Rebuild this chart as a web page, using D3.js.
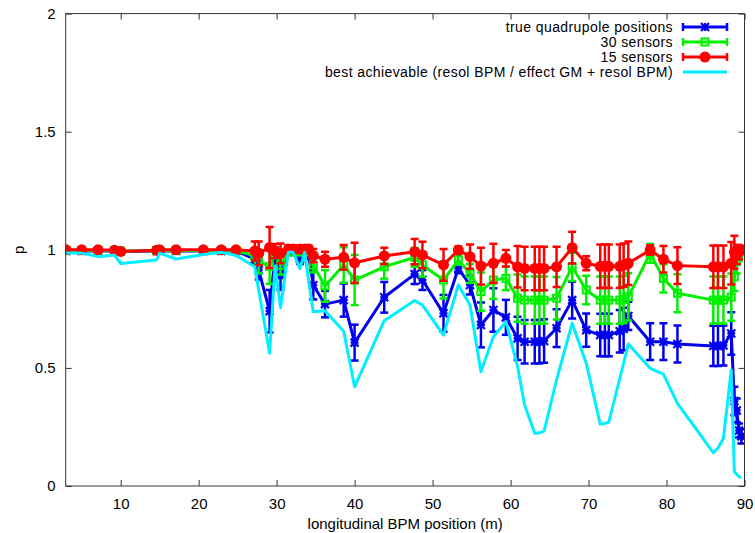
<!DOCTYPE html>
<html><head><meta charset="utf-8">
<script src="https://cdn.jsdelivr.net/npm/d3@7"></script>
<style>body{margin:0;background:#fff} text{font-family:"Liberation Sans",Arial,sans-serif}</style>
</head><body><svg id="c" width="755" height="533"></svg>
<script>
const positions = [3.0,5.0,7.1,9.2,10.0,14.6,15.0,17.1,20.6,22.9,24.8,27.2,27.7,29.1,29.8,30.5,31.5,32.1,33.0,33.6,34.1,34.7,36.2,38.6,40.0,43.8,47.7,48.7,51.4,53.3,54.8,56.2,57.8,59.4,60.9,61.8,63.1,63.7,64.3,65.9,67.9,69.7,71.5,72.1,72.6,74.0,74.5,75.1,77.9,79.6,81.4,86.0,86.6,87.3,88.3,88.7,89.0,89.3,89.6];

const trueQuad = [0.995,0.995,0.995,0.995,0.993,0.995,0.995,0.995,0.995,0.995,0.995,0.96,0.914,0.74,0.98,0.89,0.99,0.995,0.96,0.995,0.98,0.85,0.77,0.787,0.607,0.799,0.897,0.872,0.731,0.921,0.851,0.682,0.745,0.714,0.625,0.611,0.611,0.611,0.614,0.668,0.787,0.66,0.639,0.639,0.639,0.655,0.665,0.72,0.611,0.611,0.601,0.593,0.593,0.595,0.646,0.36,0.32,0.235,0.21];
const trueQuadErr = [0.005,0.005,0.005,0.005,0.005,0.005,0.005,0.005,0.005,0.005,0.005,0.02,0.04,0.09,0.03,0.06,0.01,0.01,0.02,0.01,0.02,0.06,0.056,0.07,0.076,0.065,0.042,0.042,0.078,0.02,0.04,0.095,0.092,0.074,0.092,0.092,0.092,0.092,0.092,0.08,0.078,0.07,0.09,0.09,0.09,0.09,0.09,0.06,0.078,0.078,0.078,0.085,0.085,0.085,0.09,0.06,0.05,0.03,0.03];

const sensors30 = [0.997,0.997,0.997,0.997,0.995,0.997,0.997,0.997,0.997,0.997,0.997,0.975,0.95,0.93,0.985,0.935,0.99,0.995,0.99,0.995,0.99,0.935,0.847,0.936,0.872,0.928,0.968,0.936,0.872,0.957,0.90,0.823,0.872,0.879,0.795,0.787,0.787,0.787,0.787,0.795,0.928,0.83,0.787,0.787,0.787,0.787,0.79,0.801,0.985,0.879,0.816,0.787,0.787,0.787,0.80,0.886,0.95,0.985,1.0];
const sensors30Err = [0.005,0.005,0.005,0.005,0.005,0.005,0.005,0.005,0.005,0.005,0.005,0.02,0.05,0.074,0.02,0.04,0.01,0.01,0.01,0.01,0.01,0.03,0.067,0.075,0.106,0.05,0.04,0.05,0.078,0.02,0.04,0.081,0.08,0.05,0.1,0.1,0.1,0.1,0.1,0.09,0.06,0.06,0.1,0.1,0.1,0.1,0.1,0.1,0.04,0.06,0.08,0.1,0.1,0.1,0.1,0.06,0.05,0.03,0.01];

const sensors15 = [1.0,1.0,1.0,0.998,0.993,0.998,1.0,1.0,1.0,1.0,1.0,0.995,0.985,1.01,0.995,0.985,1.003,1.003,1.003,1.003,1.003,0.975,0.96,0.968,0.945,0.974,0.992,0.978,0.936,0.999,0.971,0.931,0.943,0.964,0.928,0.921,0.921,0.921,0.921,0.928,1.009,0.943,0.93,0.93,0.93,0.93,0.935,0.943,0.999,0.96,0.933,0.928,0.928,0.928,0.943,0.99,0.98,0.99,1.0];
const sensors15Err = [0.005,0.005,0.005,0.005,0.005,0.005,0.005,0.005,0.005,0.005,0.005,0.04,0.05,0.087,0.03,0.042,0.015,0.015,0.015,0.015,0.015,0.028,0.032,0.052,0.085,0.035,0.054,0.056,0.067,0.015,0.051,0.078,0.083,0.035,0.088,0.092,0.092,0.092,0.092,0.085,0.067,0.03,0.092,0.092,0.092,0.092,0.092,0.092,0.02,0.056,0.078,0.09,0.09,0.09,0.09,0.07,0.04,0.03,0.01];

const bestAchievable = [0.986,0.986,0.971,0.978,0.942,0.957,0.986,0.961,0.98,0.99,0.976,0.928,0.83,0.562,0.93,0.755,0.99,0.99,0.92,0.99,0.87,0.738,0.742,0.655,0.42,0.70,0.785,0.766,0.639,0.851,0.766,0.484,0.632,0.696,0.505,0.343,0.223,0.225,0.232,0.449,0.689,0.52,0.262,0.265,0.27,0.455,0.52,0.601,0.498,0.474,0.35,0.141,0.16,0.202,0.491,0.06,0.05,0.04,0.035];

const xTicks = [10,20,30,40,50,60,70,80,90];
const yTicks = [0,0.5,1,1.5,2];
const seriesNames = ["true quadrupole positions","30 sensors","15 sensors","best achievable (resol BPM / effect GM + resol BPM)"];

const svg = d3.select("#c");
const L = 65.7, R = 744.5, T = 13.6, B = 486;
const FS = 15;
const x = d3.scaleLinear().domain([2.95, 90]).range([L, R]);
const y = d3.scaleLinear().domain([0, 2]).range([B, T]);

const axisColor = "#333";
const fmt = d => (d === 0 ? "0" : String(d));
function styleAxis(g){ g.select(".domain").remove(); g.selectAll("line").attr("stroke", axisColor); g.selectAll("text").attr("font-size", FS).attr("fill","#000"); }
svg.append("g").attr("transform",`translate(0,${B})`).call(d3.axisBottom(x).tickValues(xTicks).tickSizeInner(-6).tickSizeOuter(0).tickPadding(12).tickFormat(fmt)).call(styleAxis);
svg.append("g").attr("transform",`translate(0,${T})`).call(d3.axisTop(x).tickValues(xTicks).tickSizeInner(-6).tickSizeOuter(0).tickFormat("")).call(styleAxis);
svg.append("g").attr("transform",`translate(${L},0)`).call(d3.axisLeft(y).tickValues(yTicks).tickSizeInner(-6).tickSizeOuter(0).tickPadding(10).tickFormat(fmt)).call(styleAxis);
svg.append("g").attr("transform",`translate(${R},0)`).call(d3.axisRight(y).tickValues(yTicks).tickSizeInner(-6).tickSizeOuter(0).tickFormat("")).call(styleAxis);

const plot = svg.append("g");
svg.append("clipPath").attr("id","cp").append("rect").attr("x",L).attr("y",T).attr("width",R-L).attr("height",B-T);
plot.attr("clip-path","url(#cp)");

function data(vals, errs){ return positions.map((p,i)=>({x:p, v:vals[i], e: errs ? errs[i] : 0})); }
const line = d3.line().x(d=>x(d.x)).y(d=>y(d.v));

function drawErrSeries(d, color, marker){
  const g = plot.append("g");
  g.append("path").datum(d).attr("d", line).attr("fill","none").attr("stroke",color).attr("stroke-width",3).attr("stroke-linejoin","round");
  const eb = g.selectAll("g.eb").data(d).join("g");
  eb.append("line").attr("x1",p=>x(p.x)).attr("x2",p=>x(p.x)).attr("y1",p=>y(p.v-p.e)).attr("y2",p=>y(p.v+p.e)).attr("stroke",color).attr("stroke-width",2.5);
  eb.append("line").attr("x1",p=>x(p.x)-4).attr("x2",p=>x(p.x)+4).attr("y1",p=>y(p.v-p.e)).attr("y2",p=>y(p.v-p.e)).attr("stroke",color).attr("stroke-width",2.5);
  eb.append("line").attr("x1",p=>x(p.x)-4).attr("x2",p=>x(p.x)+4).attr("y1",p=>y(p.v+p.e)).attr("y2",p=>y(p.v+p.e)).attr("stroke",color).attr("stroke-width",2.5);
  d.forEach(p=>marker(g, x(p.x), y(p.v)));
}
function star(g,cx,cy,color){
  const s=4;
  g.append("path").attr("d",`M${cx-s},${cy}H${cx+s}M${cx},${cy-s}V${cy+s}M${cx-s},${cy-s}L${cx+s},${cy+s}M${cx-s},${cy+s}L${cx+s},${cy-s}`).attr("stroke",color).attr("stroke-width",2.2).attr("fill","none");
}
function square(g,cx,cy,color){
  g.append("rect").attr("x",cx-3.5).attr("y",cy-3.5).attr("width",7).attr("height",7).attr("fill","none").attr("stroke",color).attr("stroke-width",2);
}
function circle(g,cx,cy,color){
  g.append("circle").attr("cx",cx).attr("cy",cy).attr("r",5.5).attr("fill",color);
}

const BLUE="#0000f0", GREEN="#00f000", RED="#ff0000", CYAN="#00eeff";
drawErrSeries(data(trueQuad,trueQuadErr), BLUE, (g,a,b)=>star(g,a,b,BLUE));
drawErrSeries(data(sensors30,sensors30Err), GREEN, (g,a,b)=>square(g,a,b,GREEN));
drawErrSeries(data(sensors15,sensors15Err), RED, (g,a,b)=>circle(g,a,b,RED));
plot.append("path").datum(data(bestAchievable)).attr("d",line).attr("fill","none").attr("stroke",CYAN).attr("stroke-width",3).attr("stroke-linejoin","round");

svg.append("rect").attr("x",L).attr("y",T).attr("width",R-L).attr("height",B-T).attr("fill","none").attr("stroke",axisColor).attr("stroke-width",1);

svg.append("text").attr("x",(L+R)/2).attr("y",529).attr("text-anchor","middle").attr("font-size",FS).text("longitudinal BPM position (m)");
svg.append("text").attr("transform",`translate(24,${(T+B)/2}) rotate(-90)`).attr("text-anchor","middle").attr("font-size",FS).text("p");

const leg = svg.append("g");
const colors=[BLUE,GREEN,RED,CYAN];
const markers=[star,square,circle,null];
const rowY=[27,42,57,72];
seriesNames.forEach((name,i)=>{
  const yy=rowY[i];
  leg.append("text").attr("x",673).attr("y",yy+5).attr("text-anchor","end").attr("font-size",14).attr("letter-spacing","0.4px").text(name);
  leg.append("line").attr("x1",683).attr("x2",727).attr("y1",yy).attr("y2",yy).attr("stroke",colors[i]).attr("stroke-width",3);
  if(markers[i]){
    leg.append("line").attr("x1",683).attr("x2",683).attr("y1",yy-4).attr("y2",yy+4).attr("stroke",colors[i]).attr("stroke-width",2.5);
    leg.append("line").attr("x1",727).attr("x2",727).attr("y1",yy-4).attr("y2",yy+4).attr("stroke",colors[i]).attr("stroke-width",2.5);
    markers[i](leg,705,yy,colors[i]);
  }
});
</script></body></html>
